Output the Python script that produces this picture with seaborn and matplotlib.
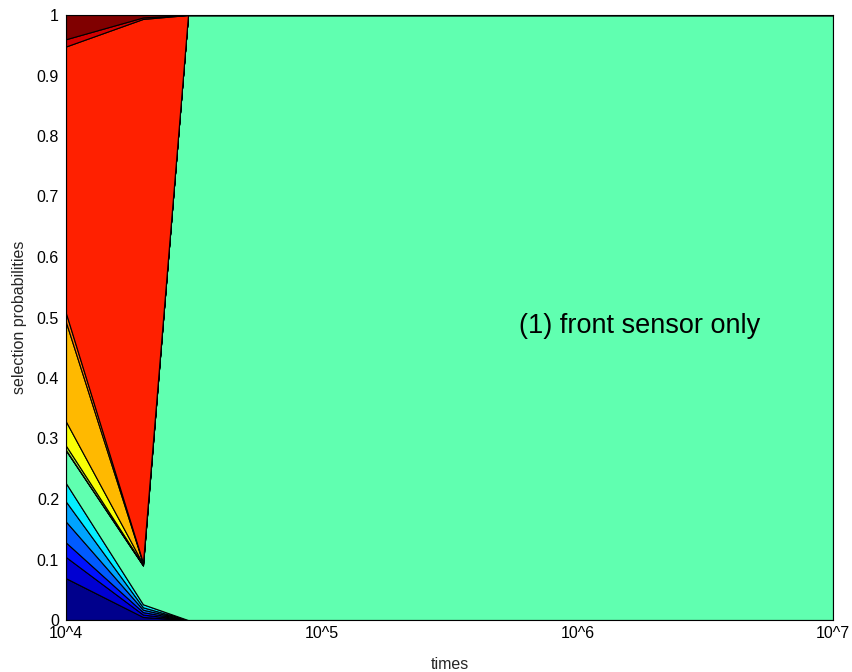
import numpy as np
import pandas as pd
import matplotlib
matplotlib.use("Agg")
import matplotlib.pyplot as plt
import seaborn as sns

# Sampling times
times = [1e4, 2e4, 3e4, 1e5, 1e6, 1e7]

# Selection probability of each sensor configuration at every time
config_01 = [0.069, 0.005, 0.0, 0.0, 0.0, 0.0]
config_02 = [0.035, 0.004, 0.0, 0.0, 0.0, 0.0]
config_03 = [0.024, 0.004, 0.0, 0.0, 0.0, 0.0]
config_04 = [0.0345, 0.004, 0.0, 0.0, 0.0, 0.0]
config_05 = [0.0331, 0.004, 0.0, 0.0, 0.0, 0.0]
config_06 = [0.0304, 0.005, 0.0, 0.0, 0.0, 0.0]
config_07 = [0.054, 0.064, 1.0, 1.0, 1.0, 1.0]
config_08 = [0.001, 0.0005, 0.0, 0.0, 0.0, 0.0]
config_09 = [0.007, 0.001, 0.0, 0.0, 0.0, 0.0]
config_10 = [0.040, 0.001, 0.0, 0.0, 0.0, 0.0]
config_11 = [0.164, 0.001, 0.0, 0.0, 0.0, 0.0]
config_12 = [0.015, 0.0015, 0.0, 0.0, 0.0, 0.0]
config_13 = [0.441, 0.8985, 0.0, 0.0, 0.0, 0.0]
config_14 = [0.012, 0.0025, 0.0, 0.0, 0.0, 0.0]
config_15 = [0.040, 0.004, 0.0, 0.0, 0.0, 0.0]

layers = [config_01, config_02, config_03, config_04, config_05,
          config_06, config_07, config_08, config_09, config_10,
          config_11, config_12, config_13, config_14, config_15]
names = [f"config {i + 1}" for i in range(len(layers))]

df = pd.DataFrame({n: v for n, v in zip(names, layers)}, index=times)

# jet-style palette, one colour per configuration
colors = ["#00008C", "#0000D2", "#0012FF", "#005BFF", "#00A4FF",
          "#06EDFF", "#60FFB0", "#7BFF7B", "#B6FF40", "#F8FF06",
          "#FFB900", "#FF7500", "#FF2000", "#D20000", "#800000"]

sns.set_style("white")
plt.rcParams["font.family"] = ["Liberation Sans", "DejaVu Sans"]

fig = plt.figure(figsize=(8.53, 6.72), dpi=100)
ax = fig.add_axes([66 / 853, 52 / 672, 767 / 853, 605 / 672])

ax.stackplot(df.index.values, *[df[c].values for c in names],
             colors=colors, edgecolor="black", linewidth=0.8)

ax.set_xscale("log")
ax.set_xlim(1e4, 1e7)
ax.set_ylim(0, 1)

fs = 11.5
ax.set_xticks([1e4, 1e5, 1e6, 1e7])
ax.set_xticklabels(["10^4", "10^5", "10^6", "10^7"], fontsize=fs)
ax.xaxis.set_minor_locator(matplotlib.ticker.NullLocator())
yt = np.round(np.arange(0, 1.01, 0.1), 1)
ax.set_yticks(yt)
ax.set_yticklabels(["0" if v == 0 else ("1" if v == 1 else f"{v:g}") for v in yt],
                   fontsize=fs)
ax.tick_params(direction="in", length=4, width=0.6, colors="black",
               top=True, right=True)
ax.tick_params(axis="x", pad=4)
ax.tick_params(axis="y", pad=5)

for s in ax.spines.values():
    s.set_visible(True)
    s.set_color("black")
    s.set_linewidth(0.8)

ax.set_xlabel("times", fontsize=fs, labelpad=12)
ax.set_ylabel("selection probabilities", fontsize=fs, labelpad=7)

ax.text(10 ** 5.77, 0.486, "(1) front sensor only", fontsize=19.5,
        ha="left", va="center", color="black")

fig.savefig("out.png", dpi=100)
